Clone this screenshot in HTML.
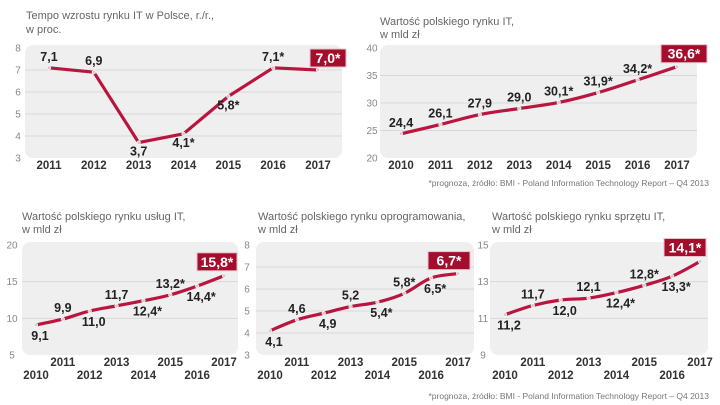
<!DOCTYPE html>
<html><head><meta charset="utf-8">
<style>
html,body{margin:0;padding:0;background:#fff;}
svg{display:block;font-family:"Liberation Sans",sans-serif;}
.t{font-size:11px;fill:#666;}
.tk{font-size:10px;fill:#888;}
.yr{font-size:11.5px;font-weight:bold;fill:#333;}
.vl{font-size:12.5px;font-weight:bold;fill:#222;}
.hb{font-size:14px;font-weight:bold;fill:#fff;}
.fn{font-size:8.5px;fill:#777;}
</style></head><body>
<svg id="s" width="720" height="405" viewBox="0 0 720 405">
<text class="t" x="26" y="19">Tempo wzrostu rynku IT w Polsce, r./r.,</text>
<text class="t" x="26" y="33">w proc.</text>
<text class="t" x="380" y="25">Wartość polskiego rynku IT,</text>
<text class="t" x="380" y="38">w mld zł</text>
<text class="fn" x="709" y="186" text-anchor="end">*prognoza, źródło: BMI - Poland Information Technology Report – Q4 2013</text>
<text class="t" x="22" y="220">Wartość polskiego rynku usług IT,</text>
<text class="t" x="22" y="233">w mld zł</text>
<text class="t" x="258" y="220">Wartość polskiego rynku oprogramowania,</text>
<text class="t" x="258" y="233">w mld zł</text>
<text class="t" x="492" y="220">Wartość polskiego rynku sprzętu IT,</text>
<text class="t" x="492" y="233">w mld zł</text>
<text class="fn" x="709" y="399" text-anchor="end">*prognoza, źródło: BMI - Poland Information Technology Report – Q4 2013</text>
</svg>
<script>
const years1=["2011","2012","2013","2014","2015","2016","2017"];
const growth=[7.1,6.9,3.7,4.1,5.8,7.1,7.0];
const growthLabels=["7,1","6,9","3,7","4,1*","5,8*","7,1*","7,0*"];
const growthPos=["u","u","d","d","d","u","b"];
const ticks1=[3,4,5,6,7,8];

const years2=["2010","2011","2012","2013","2014","2015","2016","2017"];
const total=[24.4,26.1,27.9,29.0,30.1,31.9,34.2,36.6];
const totalLabels=["24,4","26,1","27,9","29,0","30,1*","31,9*","34,2*","36,6*"];
const totalPos=["u","u","u","u","u","u","u","b"];
const ticks2=[20,25,30,35,40];

const services=[9.1,9.9,11.0,11.7,12.4,13.2,14.4,15.8];
const servicesLabels=["9,1","9,9","11,0","11,7","12,4*","13,2*","14,4*","15,8*"];
const ticks3=[5,10,15,20];

const software=[4.1,4.6,4.9,5.2,5.4,5.8,6.5,6.7];
const softwareLabels=["4,1","4,6","4,9","5,2","5,4*","5,8*","6,5*","6,7*"];
const ticks4=[3,4,5,6,7,8];

const hardware=[11.2,11.7,12.0,12.1,12.4,12.8,13.3,14.1];
const hardwareLabels=["11,2","11,7","12,0","12,1","12,4*","12,8*","13,3*","14,1*"];
const ticks5=[9,11,13,15];

const altPos=["d","u","d","u","d","u","d","b"];

const svg=document.getElementById('s');
const NS="http://www.w3.org/2000/svg";
function mk(tag,attrs,txt){const e=document.createElementNS(NS,tag);for(const k in attrs)e.setAttribute(k,attrs[k]);if(txt!==undefined)e.textContent=txt;svg.appendChild(e);return e;}

function chart(id,c){
  const n=c.vals.length;
  const x=i=>c.x0+(c.x1-c.x0)*i/(n-1);
  const ymin=c.ticks[0],ymax=c.ticks[c.ticks.length-1];
  const y=v=>c.yb-(v-ymin)/(ymax-ymin)*(c.yb-c.yt);
  const bg=mk('rect',{x:c.bx0,y:c.yt-3,width:c.bx1-c.bx0,height:c.yb-c.yt+3,rx:8,fill:'#efefef'});
  
  
  c.ticks.forEach((t,i)=>{
    if(i>0&&i<c.ticks.length-1){
      const g=mk('line',{x1:c.bx0,x2:c.bx1,y1:y(t),y2:y(t),stroke:'#d8d8d8','stroke-width':1});
      
      
    }
    const tl=mk('text',{class:'tk',x:c.tx,y:y(t)+3.5,'text-anchor':'middle'},String(t));
    
    
  });
  c.years.forEach((yr,i)=>{
    let yy=c.yrY;
    if(c.stagger) yy = (i%2===1)? c.yrY : c.yrY+13;
    const e=mk('text',{class:'yr',x:x(i),y:yy,'text-anchor':'middle'},yr);
    
    
  });
  const pts=c.vals.map((v,i)=>[x(i),y(v)]);
  let d='M'+pts[0][0]+','+pts[0][1];
  for(let i=0;i<n-1;i++){
    if(c.straight){d+=' L'+pts[i+1][0]+','+pts[i+1][1];continue;}
    const p0=pts[Math.max(0,i-1)],p1=pts[i],p2=pts[i+1],p3=pts[Math.min(n-1,i+2)];
    const k=0.18;
    d+=' C'+(p1[0]+(p2[0]-p0[0])*k)+','+(p1[1]+(p2[1]-p0[1])*k)+' '+(p2[0]-(p3[0]-p1[0])*k)+','+(p2[1]-(p3[1]-p1[1])*k)+' '+p2[0]+','+p2[1];
  }
  const ln=mk('path',{d:d,fill:'none',stroke:'#b8163f','stroke-width':3.2,'stroke-linejoin':'round'});
  
  
  pts.forEach((p,i)=>{
    const dot=mk('circle',{cx:p[0],cy:p[1],r:1.8,fill:'#ccc',stroke:'#fff','stroke-width':0.6});
    
    
    const pos=c.pos[i];
    if(pos==='b'){
      const w=c.bw,h=18;
      const r=mk('rect',{x:p[0]-w+c.bdx,y:p[1]-h-c.bdy,width:w,height:h,fill:'#a50d2c',stroke:'#e9c2cb','stroke-width':1});
      
      
      const tt=mk('text',{class:'hb',x:p[0]-w/2+c.bdx,y:p[1]-c.bdy-4,'text-anchor':'middle'},c.labels[i]);
      
      
    }else{
      const ty=pos==='u'?p[1]-7:p[1]+c.dOff;
      const tx=pos==='u'?p[0]:p[0]+c.dDx;
      const tt=mk('text',{class:'vl',x:tx,y:ty,'text-anchor':'middle'},c.labels[i]);
      
      
    }
  });
}
chart('growth-chart',{vals:growth,labels:growthLabels,pos:growthPos,years:years1,ticks:ticks1,x0:49,x1:318,yt:48,yb:158,bx0:25,bx1:342,tx:18,yrY:169,straight:true,bw:36,bdx:28,bdy:3,dOff:13,dDx:0});
chart('total-chart',{vals:total,labels:totalLabels,pos:totalPos,years:years2,ticks:ticks2,x0:401,x1:677,yt:48,yb:158,bx0:380,bx1:697,tx:372,yrY:169,bw:46,bdx:30,bdy:4,dOff:13,dDx:0});
chart('services-chart',{vals:services,labels:servicesLabels,pos:altPos,years:years2,ticks:ticks3,x0:36,x1:224,yt:245,yb:355,bx0:22,bx1:238,tx:12,yrY:366,stagger:true,bw:40,bdx:13,bdy:5,dOff:15,dDx:4});
chart('software-chart',{vals:software,labels:softwareLabels,pos:altPos,years:years2,ticks:ticks4,x0:270,x1:458,yt:245,yb:355,bx0:256,bx1:474,tx:247,yrY:366,stagger:true,bw:42,bdx:12,bdy:4,dOff:15,dDx:4});
chart('hardware-chart',{vals:hardware,labels:hardwareLabels,pos:altPos,years:years2,ticks:ticks5,x0:505,x1:700,yt:245,yb:355,bx0:490,bx1:708,tx:483,yrY:366,stagger:true,bw:42,bdx:6,bdy:5,dOff:15,dDx:4});
</script>
</body></html>
